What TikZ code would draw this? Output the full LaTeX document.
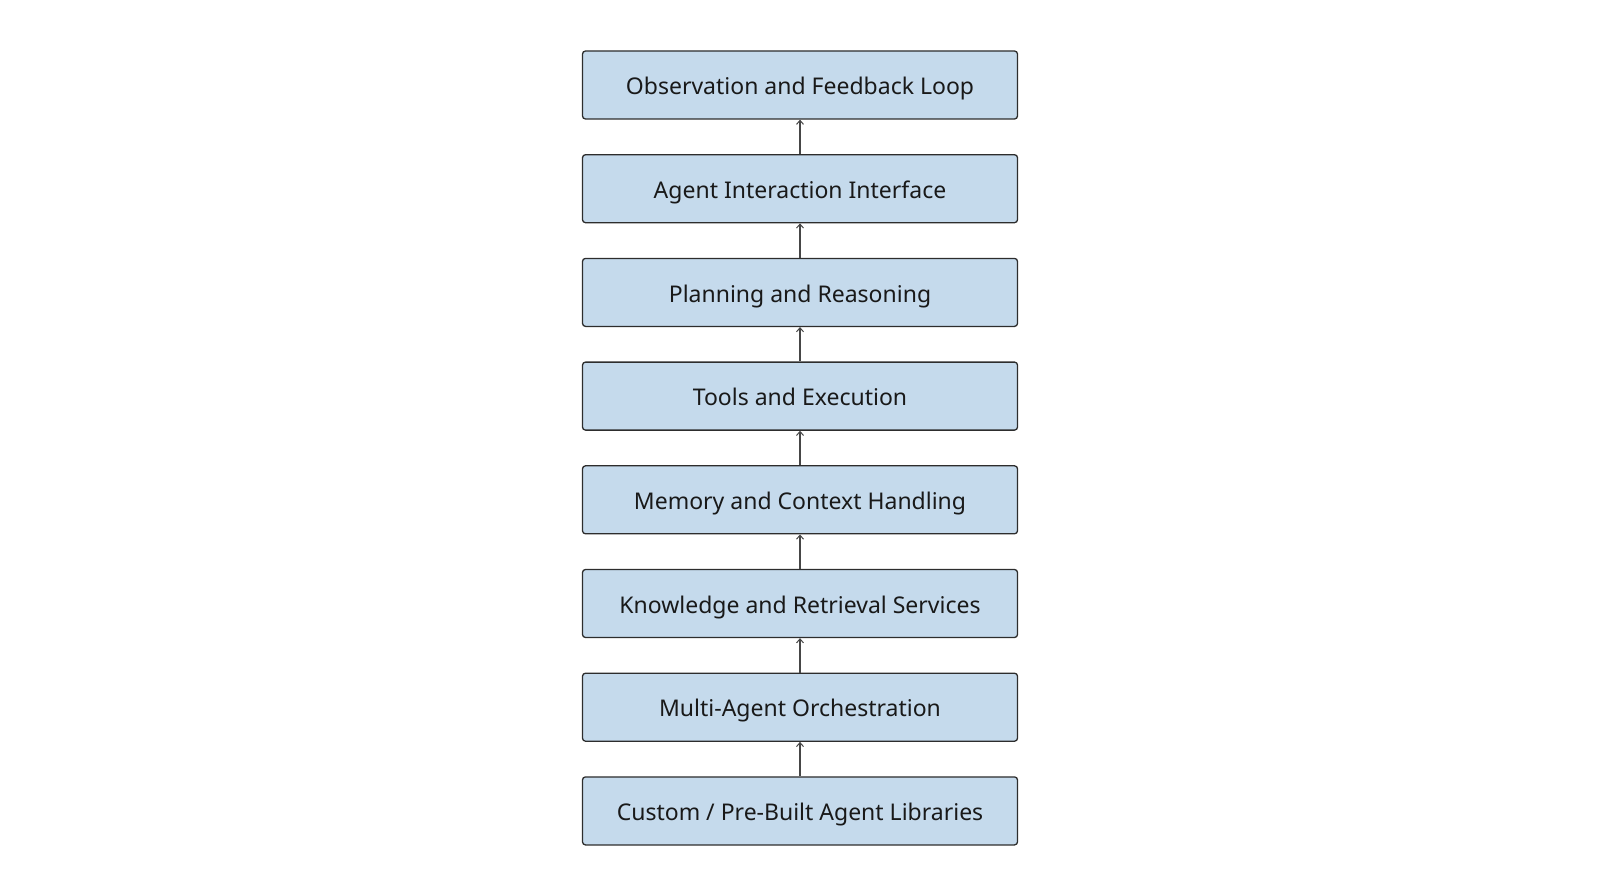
\documentclass[tikz,border=0pt]{standalone}
\usepackage{fontspec}
\setmainfont{Noto Sans}
\usetikzlibrary{arrows.meta}
\definecolor{boxfill}{RGB}{197,218,236}
\definecolor{boxline}{RGB}{45,45,45}
\definecolor{arrowc}{RGB}{70,70,70}
\tikzset{
  layer/.style={draw=boxline, line width=1.3pt, fill=boxfill, rounded corners=3pt,
    minimum width=435pt, minimum height=68pt, inner sep=0pt,
    text height=21pt, text depth=1.6pt,
    font=\fontsize{23}{27}\selectfont, text=black!90},
  uparrow/.style={draw=arrowc, line width=1.1pt, -{Straight Barb[length=4pt,width=7pt,line width=1pt]}}
}
\begin{document}
\begin{tikzpicture}[x=1pt,y=-1pt]
\useasboundingbox (0,0) rectangle (1600,896);
\node[layer] (n1) at (800,85) {Observation and Feedback Loop};
\node[layer] (n2) at (800,188.7) {Agent Interaction Interface};
\node[layer] (n3) at (800,292.4) {Planning and Reasoning};
\node[layer] (n4) at (800,396.1) {Tools and Execution};
\node[layer] (n5) at (800,499.8) {Memory and Context Handling};
\node[layer] (n6) at (800,603.5) {Knowledge and Retrieval Services};
\node[layer] (n7) at (800,707.2) {Multi-Agent Orchestration};
\node[layer] (n8) at (800,810.9) {Custom / Pre-Built Agent Libraries};
\draw[uparrow] (n2.north) -- (n1.south);
\draw[uparrow] (n3.north) -- (n2.south);
\draw[uparrow] (n4.north) -- (n3.south);
\draw[uparrow] (n5.north) -- (n4.south);
\draw[uparrow] (n6.north) -- (n5.south);
\draw[uparrow] (n7.north) -- (n6.south);
\draw[uparrow] (n8.north) -- (n7.south);
\end{tikzpicture}
\end{document}
